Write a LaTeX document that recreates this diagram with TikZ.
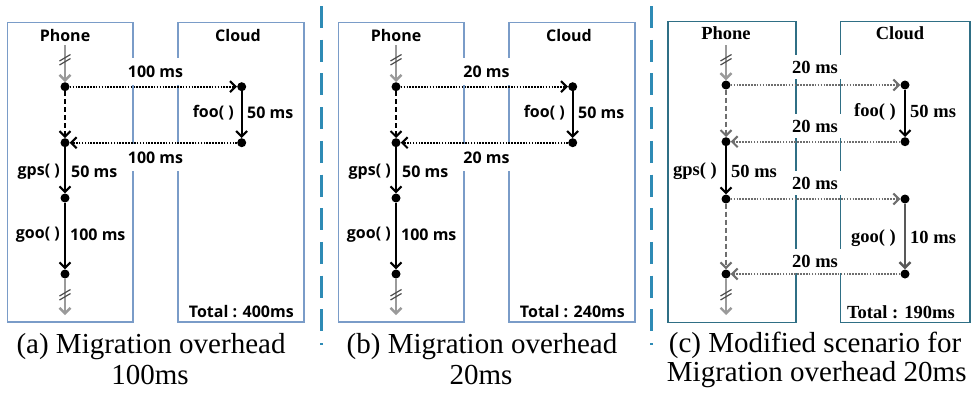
\documentclass[tikz,border=0pt]{standalone}
\usepackage{fontspec}
\setmainfont{Liberation Serif}
\newfontfamily\labfont{Open Sans}
\newfontfamily\serbfont{Liberation Serif}
\usetikzlibrary{arrows.meta}
\definecolor{boxblue}{HTML}{7A9CC8}
\definecolor{boxteal}{HTML}{2F6F85}
\definecolor{sepblue}{HTML}{2E8BB5}
\definecolor{lgray}{HTML}{9A9A9A}
\definecolor{mgray}{HTML}{6E6E6E}
\tikzset{
  >={Straight Barb[length=5.5pt,width=11pt]},
  dotn/.style={circle,fill=black,inner sep=0pt,minimum size=9pt},
  laneA/.style={draw=boxblue,line width=1.2pt},
  laneC/.style={draw=boxteal,line width=1.4pt},
  labA/.style={font=\labfont\bfseries\fontsize{16}{19}\selectfont,inner sep=1pt},
  labC/.style={font=\serbfont\bfseries\fontsize{18.5}{21}\selectfont,inner sep=1pt},
  capt/.style={font=\fontsize{29}{34}\selectfont,inner sep=0pt},
  migbox/.style={fill=white,inner sep=0pt,minimum width=52pt,minimum height=27pt},
  migboxC/.style={fill=white,inner sep=0pt,minimum width=52pt,minimum height=24pt},
  grayarr/.style={->,draw=lgray,line width=2.4pt},
  brkst/.style={draw=black!70,line width=1.2pt},
  blkarr/.style={->,draw=black,line width=2.1pt},
  dasharr/.style={->,draw=black,line width=2.1pt,dash pattern=on 5pt off 3pt},
  dasharrC/.style={->,draw=mgray,line width=2.1pt,dash pattern=on 5pt off 3pt},
  dotarr/.style={->,draw=black,line width=2.1pt,dash pattern=on 1.6pt off 1.3pt},
  dotarrC/.style={->,draw=mgray,line width=2.1pt,dash pattern=on 1.6pt off 1.3pt},
  goarr/.style={->,draw=black!65,line width=2.4pt},
  seplin/.style={draw=sepblue,line width=2.6pt,dash pattern=on 22pt off 11.7pt},
}
\newcommand\abpanel[6]{%
\begin{scope}[xshift=#2]
  \draw[laneA] (7.3,22.7) rectangle (133,322);
  \draw[laneA] (178,22.7) rectangle (304,322);
  \node[labA] (#1phone) at (65,35) {Phone};
  \node[labA] (#1cloud) at (238,35) {Cloud};
  \node[labA,migbox] (#1m1) at (155.5,71.5) {#3 ms};
  \node[labA,migbox] (#1m2) at (155.5,157.5) {#3 ms};
  \coordinate (#1top) at (65,45);
  \coordinate (#1bot) at (65,315);
  \node[dotn] (#1p1) at (65,86.7) {};
  \node[dotn] (#1p2) at (65,142.7) {};
  \node[dotn] (#1p3) at (65,198) {};
  \node[dotn] (#1p4) at (65,274) {};
  \node[dotn] (#1c1) at (241.7,86.7) {};
  \node[dotn] (#1c2) at (241.7,142.7) {};
  \draw[grayarr] (#1top) -- (#1p1);
  \draw[brkst] (59.5,61) -- (70.5,54.5);
  \draw[brkst] (59.5,65) -- (70.5,58.5);
  \draw[dasharr] (#1p1) -- (#1p2);
  \draw[blkarr] (#1p2) -- (#1p3);
  \draw[blkarr] (#1p3) -- (#1p4);
  \draw[grayarr] (#1p4) -- (#1bot);
  \draw[brkst] (59.5,296) -- (70.5,289.5);
  \draw[brkst] (59.5,300) -- (70.5,293.5);
  \draw[blkarr] (#1c1) -- (#1c2);
  \draw[dotarr] (#1p1) -- (#1c1);
  \draw[dotarr] (#1c2) -- (#1p2);
  \node[labA,anchor=east] (#1foo) at (235,113) {foo( )};
  \node[labA,anchor=west] (#1foot) at (246,113) {50 ms};
  \node[labA,anchor=east] (#1gps) at (61,172) {gps( )};
  \node[labA,anchor=west] (#1gpst) at (70,172) {50 ms};
  \node[labA,anchor=east] (#1goo) at (61,235) {goo( )};
  \node[labA,anchor=west] (#1goot) at (69,235) {100 ms};
  \node[labA,anchor=east] (#1tot) at (295,312) {Total : #4ms};
  \node[capt] (#1cap1) at (151,347) {#5};
  \node[capt] (#1cap2) at (150,375) {#6};
\end{scope}}
\begin{document}
\begin{tikzpicture}[x=1pt,y=-1pt]
\useasboundingbox[fill=white] (0,0) rectangle (976,397);
\abpanel{a}{0pt}{100}{400}{(a) Migration overhead}{100ms}
\abpanel{b}{331pt}{20}{240}{(b) Migration overhead}{20ms}
\coordinate (s1t) at (321.5,6);
\coordinate (s1b) at (321.5,345);
\coordinate (s2t) at (651.7,6);
\coordinate (s2b) at (651.7,345);
\draw[seplin] (s1t) -- (s1b);
\draw[seplin] (s2t) -- (s2b);
% panel c
\draw[laneC] (668,21.7) rectangle (796,322.7);
\draw[laneC] (840.7,21.7) rectangle (970,322.7);
\node[labC] (cphone) at (726,33) {Phone};
\node[labC] (ccloud) at (900,33) {Cloud};
\node[labC,migboxC] (cm1) at (815,67) {20 ms};
\node[labC,migboxC] (cm2) at (815,126) {20 ms};
\node[labC,migboxC] (cm3) at (815,183) {20 ms};
\node[labC,migboxC] (cm4) at (815,261) {20 ms};
\coordinate (ctop) at (726,45);
\coordinate (cbot) at (726,315);
\node[dotn] (cp1) at (726,85) {};
\node[dotn] (cp2) at (726,141.7) {};
\node[dotn] (cp3) at (726,199) {};
\node[dotn] (cp4) at (726,274) {};
\node[dotn] (cc1) at (905,85) {};
\node[dotn] (cc2) at (905,141.7) {};
\node[dotn] (cc3) at (905,199) {};
\node[dotn] (cc4) at (905,274) {};
\draw[grayarr] (ctop) -- (cp1);
\draw[brkst] (720.5,61) -- (731.5,54.5);
\draw[brkst] (720.5,65) -- (731.5,58.5);
\draw[dasharrC] (cp1) -- (cp2);
\draw[blkarr] (cp2) -- (cp3);
\draw[dasharrC] (cp3) -- (cp4);
\draw[grayarr] (cp4) -- (cbot);
\draw[brkst] (720.5,296) -- (731.5,289.5);
\draw[brkst] (720.5,300) -- (731.5,293.5);
\draw[blkarr] (cc1) -- (cc2);
\draw[goarr] (cc3) -- (cc4);
\draw[dotarrC] (cp1) -- (cc1);
\draw[dotarrC] (cc2) -- (cp2);
\draw[dotarrC] (cp3) -- (cc3);
\draw[dotarrC] (cc4) -- (cp4);
\node[labC,anchor=east] (cfoo) at (897,111.7) {foo( )};
\node[labC,anchor=west] (cfoot) at (909,111.7) {50 ms};
\node[labC,anchor=east] (cgps) at (718,171) {gps( )};
\node[labC,anchor=west] (cgpst) at (730,171) {50 ms};
\node[labC,anchor=east] (cgoo) at (897,237.7) {goo( )};
\node[labC,anchor=west] (cgoot) at (909,237.7) {10 ms};
\node[labC,anchor=east] (ctot) at (956,312.7) {Total : 190ms};
\node[capt] (ccap1) at (815,345) {(c) Modified scenario for};
\node[capt] (ccap2) at (816.7,375) {Migration overhead 20ms};
\end{tikzpicture}
\end{document}
